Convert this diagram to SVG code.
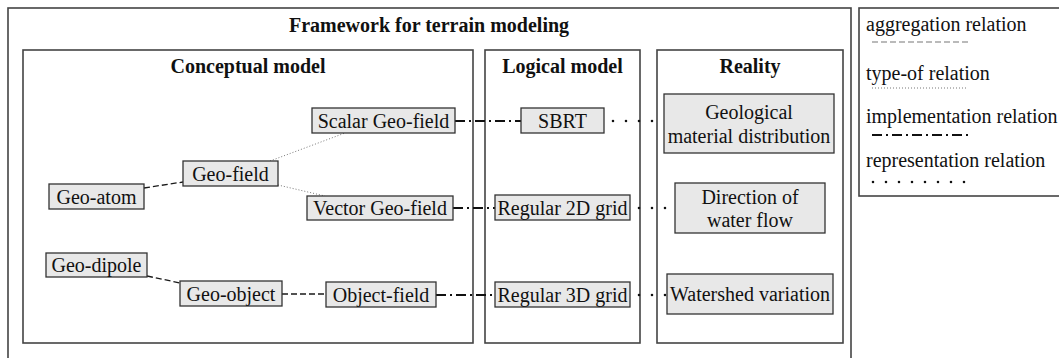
<svg xmlns="http://www.w3.org/2000/svg" width="1059" height="358" viewBox="0 0 1059 358">
  <style>
    .frame { fill: none; stroke: #444; stroke-width: 1.6; }
    .node rect { fill: #e8e8e8; stroke: #333; stroke-width: 1.3; }
    text { font-family: "Liberation Serif", "Times New Roman", serif; font-size: 20px; fill: #111; }
    .c { text-anchor: middle; }
    .b { font-weight: bold; }
    .agg { stroke: #1a1a1a; stroke-width: 1.3; stroke-dasharray: 6 3; fill: none; }
    .agg-key { stroke: #777; stroke-width: 1.2; stroke-dasharray: 6 3; fill: none; }
    .typ { stroke: #777; stroke-width: 1; stroke-dasharray: 1 2; fill: none; }
    .imp { stroke: #111; stroke-width: 2; stroke-dasharray: 10 4 2 4; fill: none; }
    .rep { stroke: #111; stroke-width: 2.6; stroke-dasharray: 0 13; stroke-linecap: round; fill: none; }
  </style>

  <rect width="1059" height="358" fill="#fff"/>

  <!-- outer frame, open at the bottom edge -->
  <rect class="frame" x="8" y="8" width="843" height="370"/>
  <text class="c b" x="429" y="32">Framework for terrain modeling</text>

  <!-- panels -->
  <g id="panel-conceptual">
    <rect class="frame" x="23" y="50" width="450" height="293"/>
    <text class="c b" x="248" y="73">Conceptual model</text>
  </g>
  <g id="panel-logical">
    <rect class="frame" x="485" y="50" width="155" height="293"/>
    <text class="c b" x="562.5" y="73">Logical model</text>
  </g>
  <g id="panel-reality">
    <rect class="frame" x="657" y="50" width="186" height="293"/>
    <text class="c b" x="750" y="73">Reality</text>
  </g>

  <!-- connectors -->
  <g id="connectors">
    <line class="agg" x1="144" y1="188" x2="183" y2="182"/>
    <line class="typ" x1="270" y1="161" x2="345" y2="133"/>
    <line class="typ" x1="278" y1="185" x2="325" y2="196"/>
    <line class="agg" x1="147" y1="276" x2="180" y2="283"/>
    <line class="agg" x1="282" y1="294" x2="326" y2="294"/>

    <line class="imp" x1="455" y1="121" x2="521" y2="121"/>
    <line class="imp" x1="453" y1="208" x2="495" y2="208"/>
    <line class="imp" x1="436" y1="295" x2="495" y2="295"/>

    <line class="rep" x1="613" y1="121" x2="664" y2="121" stroke-dasharray="0 15"/>
    <line class="rep" x1="639" y1="208" x2="675" y2="208" stroke-dasharray="0 12"/>
    <line class="rep" x1="639" y1="295" x2="667" y2="295" stroke-dasharray="0 13"/>
  </g>

  <!-- conceptual model nodes -->
  <g id="geo-atom" class="node">
    <rect x="49" y="184" width="95" height="25"/>
    <text class="c" x="96.5" y="204">Geo-atom</text>
  </g>
  <g id="geo-field" class="node">
    <rect x="183" y="161" width="95" height="25"/>
    <text class="c" x="230.5" y="181">Geo-field</text>
  </g>
  <g id="scalar-geo-field" class="node">
    <rect x="312" y="108" width="143" height="25"/>
    <text class="c" x="383.5" y="128">Scalar Geo-field</text>
  </g>
  <g id="vector-geo-field" class="node">
    <rect x="307" y="196" width="146" height="24"/>
    <text class="c" x="380" y="215">Vector Geo-field</text>
  </g>
  <g id="geo-dipole" class="node">
    <rect x="46" y="253" width="101" height="24"/>
    <text class="c" x="96.5" y="272">Geo-dipole</text>
  </g>
  <g id="geo-object" class="node">
    <rect x="180" y="281" width="102" height="25"/>
    <text class="c" x="231" y="301">Geo-object</text>
  </g>
  <g id="object-field" class="node">
    <rect x="326" y="282" width="110" height="25"/>
    <text class="c" x="381" y="302">Object-field</text>
  </g>

  <!-- logical model nodes -->
  <g id="sbrt" class="node">
    <rect x="521" y="108" width="83" height="25"/>
    <text class="c" x="562.5" y="128">SBRT</text>
  </g>
  <g id="regular-2d-grid" class="node">
    <rect x="495" y="195" width="135" height="25"/>
    <text class="c" x="562.5" y="215">Regular 2D grid</text>
  </g>
  <g id="regular-3d-grid" class="node">
    <rect x="495" y="282" width="135" height="25"/>
    <text class="c" x="562.5" y="302">Regular 3D grid</text>
  </g>

  <!-- reality nodes -->
  <g id="geological-material" class="node">
    <rect x="664" y="94" width="170" height="59"/>
    <text class="c" x="749" y="119">Geological</text>
    <text class="c" x="749" y="143">material distribution</text>
  </g>
  <g id="water-flow" class="node">
    <rect x="675" y="183" width="150" height="50"/>
    <text class="c" x="750" y="204">Direction of</text>
    <text class="c" x="750" y="227">water flow</text>
  </g>
  <g id="watershed-variation" class="node">
    <rect x="667" y="274" width="166" height="40"/>
    <text class="c" x="750" y="301">Watershed variation</text>
  </g>

  <!-- legend -->
  <g id="legend">
    <rect class="frame" x="859" y="8" width="220" height="188"/>
    <text x="866" y="31">aggregation relation</text>
    <line class="agg-key" x1="872" y1="42" x2="970" y2="42"/>
    <text x="866" y="80">type-of relation</text>
    <line class="typ" x1="872" y1="88" x2="968" y2="88"/>
    <text x="866" y="123">implementation relation</text>
    <line class="imp" x1="872" y1="135" x2="970" y2="135"/>
    <text x="866" y="167">representation relation</text>
    <line class="rep" x1="873" y1="182" x2="973" y2="182" stroke-dasharray="0 11.1"/>
  </g>
</svg>
